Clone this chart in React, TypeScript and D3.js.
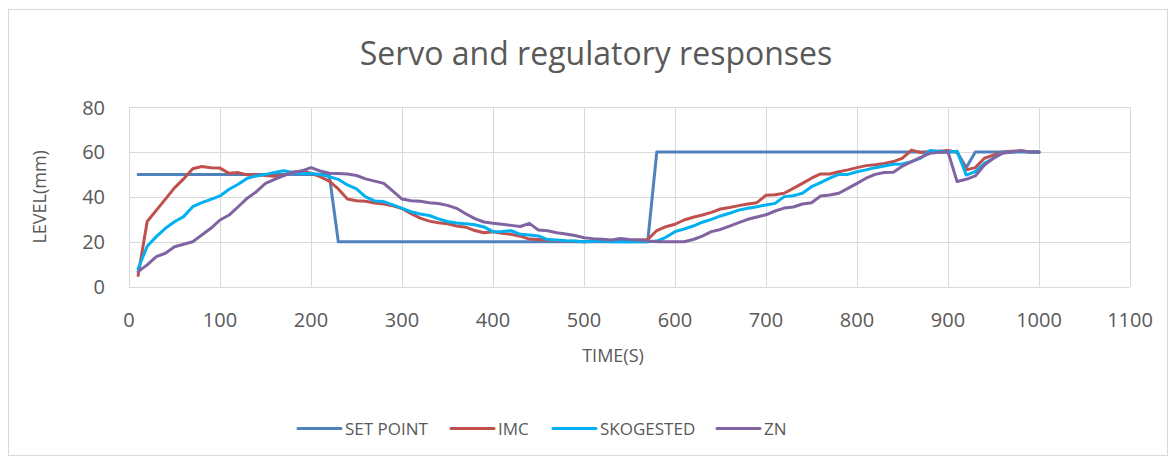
import React from "react";
import * as d3 from "d3";

const times: number[] = [
  10, 20, 30, 40, 50, 60, 70, 80, 90, 100,
  110, 120, 130, 140, 150, 160, 170, 180, 190, 200,
  210, 220, 230, 240, 250, 260, 270, 280, 290, 300,
  310, 320, 330, 340, 350, 360, 370, 380, 390, 400,
  410, 420, 430, 440, 450, 460, 470, 480, 490, 500,
  510, 520, 530, 540, 550, 560, 570, 580, 590, 600,
  610, 620, 630, 640, 650, 660, 670, 680, 690, 700,
  710, 720, 730, 740, 750, 760, 770, 780, 790, 800,
  810, 820, 830, 840, 850, 860, 870, 880, 890, 900,
  910, 920, 930, 940, 950, 960, 970, 980, 990, 1000,
];

const setPoint: number[] = [
  50, 50, 50, 50, 50, 50, 50, 50, 50, 50,
  50, 50, 50, 50, 50, 50, 50, 50, 50, 50,
  50, 50, 20, 20, 20, 20, 20, 20, 20, 20,
  20, 20, 20, 20, 20, 20, 20, 20, 20, 20,
  20, 20, 20, 20, 20, 20, 20, 20, 20, 20,
  20, 20, 20, 20, 20, 20, 20, 60, 60, 60,
  60, 60, 60, 60, 60, 60, 60, 60, 60, 60,
  60, 60, 60, 60, 60, 60, 60, 60, 60, 60,
  60, 60, 60, 60, 60, 60, 60, 60, 60, 60,
  60, 53, 60, 60, 60, 60, 60, 60, 60, 60,
];

const imc: number[] = [
  5, 29, 34, 39, 44, 48, 52.5, 53.5, 53, 52.8,
  50.5, 50.8, 49.8, 49.8, 49.5, 49.2, 49.5, 51, 51.5, 50.5,
  49, 47, 43.5, 39, 38.3, 38, 37.3, 36.8, 36, 34.8,
  32.5, 30.5, 29.2, 28.5, 28, 27, 26.5, 25, 24, 24.5,
  23.8, 23.3, 22.5, 21.2, 21, 20.8, 20.5, 20.3, 20.2, 20,
  20.3, 20.5, 20.5, 20.8, 20.5, 20.8, 21, 25, 26.7, 27.8,
  29.7, 30.9, 31.9, 33.1, 34.6, 35.3, 36.1, 36.8, 37.4, 40.7,
  40.9, 41.6, 43.8, 46, 48.3, 50.2, 50.2, 51.2, 52, 53,
  53.9, 54.3, 54.9, 55.7, 57.2, 60.8, 59.7, 60, 60.3, 60.6,
  59.8, 52, 53, 57.2, 58.6, 60, 60.3, 60.5, 60, 60,
];

const skogested: number[] = [
  8, 18, 22.3, 26, 28.9, 31.2, 35.6, 37.4, 38.9, 40.4,
  43.4, 45.6, 48.3, 49.3, 50, 50.9, 51.6, 50.9, 50.4, 50.4,
  50, 49, 47.8, 45.3, 43.5, 40, 38.2, 37.9, 36.4, 34.9,
  33.4, 32.4, 31.7, 30.2, 29, 28.4, 28, 27.6, 26.6, 24.5,
  24.6, 24.9, 23.3, 23, 22.6, 21, 20.8, 20.5, 20.3, 20,
  20.2, 20.3, 20, 20, 20, 20, 20, 20.3, 22, 24.5,
  25.7, 27, 28.7, 30, 31.5, 32.7, 34.1, 34.9, 35.6, 36.4,
  37.1, 40.1, 40.5, 41.6, 44.5, 46.3, 48.3, 50, 50, 51.2,
  52, 53, 53.7, 54.5, 54.6, 55.7, 57.2, 60.6, 60.3, 60,
  60.3, 49.7, 51.2, 54.9, 57.2, 59.7, 60, 60.3, 60, 60,
];

const zn: number[] = [
  6.7, 9.7, 13.4, 14.9, 17.8, 18.9, 20, 23, 26, 29.7,
  31.9, 35.6, 39.4, 42.3, 46, 47.8, 49.5, 51, 51.5, 53,
  51.5, 50.5, 50.4, 50.2, 49.5, 48, 47, 46, 42.5, 39,
  38.3, 38, 37.4, 37, 36.2, 34.9, 32.5, 30.3, 28.8, 28.2,
  27.8, 27.3, 26.8, 28.2, 25.2, 24.9, 24, 23.5, 22.8, 21.8,
  21.4, 21.1, 20.8, 21.5, 21, 20.8, 20.3, 20, 20, 20,
  20, 21, 22.5, 24.5, 25.5, 27, 28.5, 30, 31, 32,
  33.7, 35, 35.5, 36.8, 37.4, 40.4, 40.8, 41.6, 43.8, 46,
  48.3, 50, 50.8, 51, 53.7, 55.7, 57.6, 59.4, 59.8, 60,
  46.8, 47.8, 49.3, 54.2, 57.2, 59.4, 60, 60.5, 60, 60,
];

const seriesNames: string[] = ["SET POINT", "IMC", "SKOGESTED", "ZN"];
const seriesValues: number[][] = [setPoint, imc, skogested, zn];
const seriesColors: string[] = ["#4F81BD", "#C0504D", "#00B0F0", "#8064A2"];

const xTicks: number[] = [0, 100, 200, 300, 400, 500, 600, 700, 800, 900, 1000, 1100];
const yTicks: number[] = [0, 20, 40, 60, 80];

const title = "Servo and regulatory responses";
const xTitle = "TIME(S)";
const yTitle = "LEVEL(mm)";

const W = 1176;
const H = 461;
const plot = { left: 129, right: 1130, top: 107, bottom: 286.7 };
const legendX: number[] = [298, 451, 553, 717];
const FONT = "'Open Sans', 'Liberation Sans', sans-serif";
const TEXT = "#595959";

export default function App() {
  const x = d3.scaleLinear().domain([0, 1100]).range([plot.left, plot.right]);
  const y = d3.scaleLinear().domain([0, 80]).range([plot.bottom, plot.top]);

  const lineGen = (vals: number[]) =>
    d3
      .line<number>()
      .x((_, i) => x(times[i]))
      .y((v) => y(v))(vals) || "";

  return (
    <svg
      width={W}
      height={H}
      style={{ position: "absolute", left: 0, top: 0, display: "block" }}
    >
      <rect x={0} y={0} width={W} height={H} fill="#ffffff" />
      <rect
        x={8.5}
        y={9.5}
        width={1159}
        height={446}
        fill="#ffffff"
        stroke="#d9d9d9"
        strokeWidth={1}
      />
      <text
        x={596}
        y={65}
        textAnchor="middle"
        fontFamily={FONT}
        fontSize={32}
        fill={TEXT}
      >
        {title}
      </text>

      {/* grid */}
      {xTicks.map((t) => (
        <line
          key={"gx" + t}
          x1={Math.round(x(t)) + 0.5}
          x2={Math.round(x(t)) + 0.5}
          y1={plot.top}
          y2={plot.bottom}
          stroke="#d9d9d9"
          strokeWidth={1}
        />
      ))}
      {yTicks.map((t) => (
        <line
          key={"gy" + t}
          x1={plot.left}
          x2={plot.right}
          y1={Math.round(y(t)) + 0.5}
          y2={Math.round(y(t)) + 0.5}
          stroke="#d9d9d9"
          strokeWidth={1}
        />
      ))}

      {/* tick labels */}
      {xTicks.map((t) => (
        <text
          key={"tx" + t}
          x={x(t)}
          y={327}
          textAnchor="middle"
          fontFamily={FONT}
          fontSize={20}
          fill={TEXT}
        >
          {t}
        </text>
      ))}
      {yTicks.map((t) => (
        <text
          key={"ty" + t}
          x={105}
          y={y(t) + 7.5}
          textAnchor="end"
          fontFamily={FONT}
          fontSize={20}
          fill={TEXT}
        >
          {t}
        </text>
      ))}

      <text
        x={613}
        y={362}
        textAnchor="middle"
        fontFamily={FONT}
        fontSize={18}
        fill={TEXT}
      >
        {xTitle}
      </text>
      <text
        transform={`translate(46, ${(plot.top + plot.bottom) / 2}) rotate(-90)`}
        textAnchor="middle"
        fontFamily={FONT}
        fontSize={18}
        fill={TEXT}
      >
        {yTitle}
      </text>

      {/* series */}
      {seriesValues.map((vals, i) => (
        <path
          key={"s" + i}
          d={lineGen(vals)}
          fill="none"
          stroke={seriesColors[i]}
          strokeWidth={3}
          strokeLinejoin="round"
          strokeLinecap="round"
        />
      ))}

      {/* legend */}
      {seriesNames.map((name, i) => (
        <g key={"lg" + i}>
          <line
            x1={legendX[i]}
            x2={legendX[i] + 43}
            y1={428.5}
            y2={428.5}
            stroke={seriesColors[i]}
            strokeWidth={3}
            strokeLinecap="round"
          />
          <text
            x={legendX[i] + 47}
            y={435}
            fontFamily={FONT}
            fontSize={17}
            fill={TEXT}
          >
            {name}
          </text>
        </g>
      ))}
    </svg>
  );
}
